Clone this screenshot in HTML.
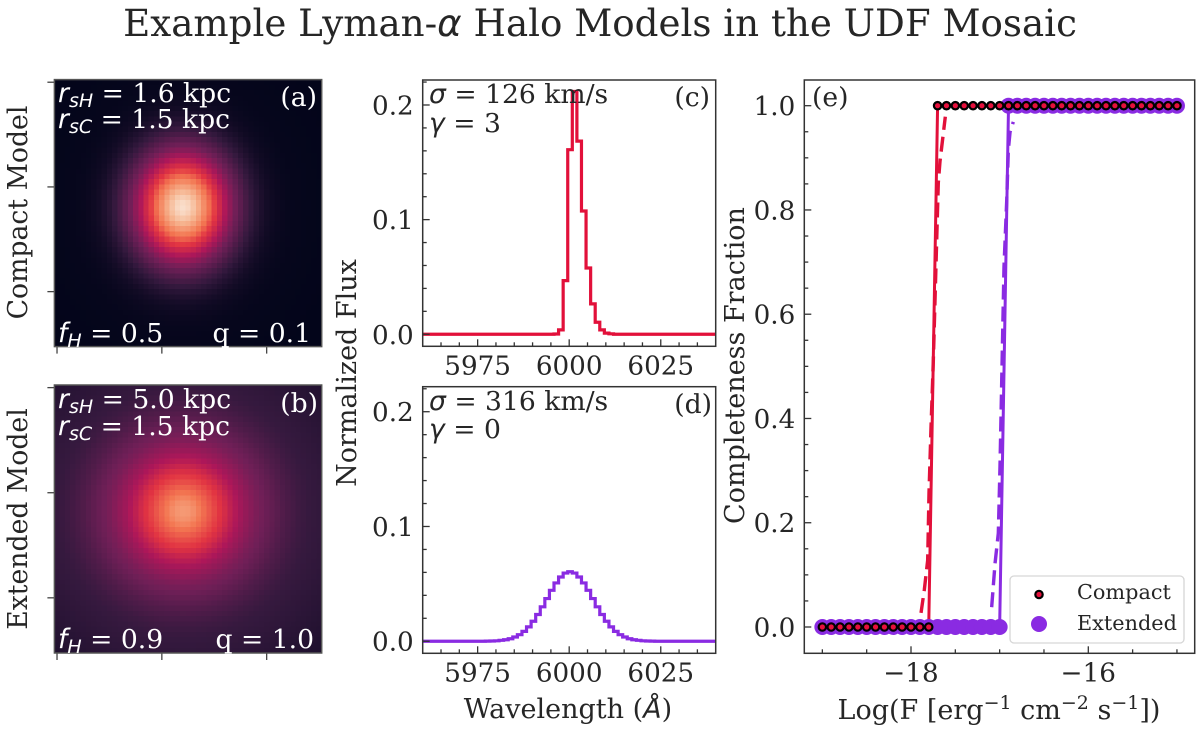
<!DOCTYPE html>
<html lang="en">
<head>
<meta charset="utf-8">
<title>Example Lyman-α Halo Models in the UDF Mosaic</title>
<style>
html,body{margin:0;padding:0;background:#fff;width:1200px;height:731px;overflow:hidden}
svg{display:block}
text{font-family:"DejaVu Serif","Liberation Serif",serif;fill:#262626;font-size:26.2px}
.m{font-family:"DejaVu Sans","Liberation Sans",sans-serif;font-style:italic}
.w{fill:#fff}
.sub{font-size:19px}
.sup{font-size:19px}
.note{font-size:26.6px}
.axis{font-size:27px}
</style>
</head>
<body>
<svg id="fig" xmlns="http://www.w3.org/2000/svg" width="1200" height="731" viewBox="0 0 1200 731">
<defs>
<clipPath id="clip-c"><rect x="422.7" y="80" width="293" height="266.3"/></clipPath>
<clipPath id="clip-d"><rect x="422.7" y="386.7" width="293" height="266.6"/></clipPath>
</defs>
<rect x="0" y="0" width="1200" height="731" fill="#fff"/>
<g id="layer-heat"></g>
<g id="layer-plots"></g>
<g id="layer-axes"></g>

<text x="600" y="36" text-anchor="middle" style="font-size:37.2px">Example Lyman-<tspan class="m">α</tspan> Halo Models in the UDF Mosaic</text>

<text class="axis" transform="translate(27,212.5) rotate(-90)" text-anchor="middle" style="font-size:26.7px">Compact Model</text>
<text class="axis" transform="translate(27,519) rotate(-90)" text-anchor="middle" style="font-size:26.7px">Extended Model</text>
<text class="axis" transform="translate(356,373) rotate(-90)" text-anchor="middle">Normalized Flux</text>
<text class="axis" transform="translate(744,365.5) rotate(-90)" text-anchor="middle">Completeness Fraction</text>
<text class="axis" x="568" y="718" text-anchor="middle">Wavelength (<tspan class="m">Å</tspan>)</text>
<text class="axis" x="999" y="719" text-anchor="middle">Log(F [erg<tspan class="sup" dy="-10">−1</tspan><tspan dy="10"> cm</tspan><tspan class="sup" dy="-10">−2</tspan><tspan dy="10"> s</tspan><tspan class="sup" dy="-10">−1</tspan><tspan dy="10">])</tspan></text>

<g>
<text class="w note" x="58" y="102"><tspan class="m w">r</tspan><tspan class="m w sub" dy="5">sH</tspan><tspan class="w" dy="-5"> = 1.6 kpc</tspan></text>
<text class="w note" x="58" y="128"><tspan class="m w">r</tspan><tspan class="m w sub" dy="5">sC</tspan><tspan class="w" dy="-5"> = 1.5 kpc</tspan></text>
<text class="w note" x="317" y="106" text-anchor="end">(a)</text>
<text class="w note" x="58" y="342"><tspan class="m w">f</tspan><tspan class="m w sub" dy="5">H</tspan><tspan class="w" dy="-5"> = 0.5</tspan></text>
<text class="w note" x="311" y="342" text-anchor="end">q = 0.1</text>
</g>
<g>
<text class="w note" x="58" y="408"><tspan class="m w">r</tspan><tspan class="m w sub" dy="5">sH</tspan><tspan class="w" dy="-5"> = 5.0 kpc</tspan></text>
<text class="w note" x="58" y="435"><tspan class="m w">r</tspan><tspan class="m w sub" dy="5">sC</tspan><tspan class="w" dy="-5"> = 1.5 kpc</tspan></text>
<text class="w note" x="318" y="412" text-anchor="end">(b)</text>
<text class="w note" x="58" y="648"><tspan class="m w">f</tspan><tspan class="m w sub" dy="5">H</tspan><tspan class="w" dy="-5"> = 0.9</tspan></text>
<text class="w note" x="314" y="648" text-anchor="end">q = 1.0</text>
</g>
<g>
<text class="note" x="429" y="103"><tspan class="m">σ</tspan> = 126 km/s</text>
<text class="note" x="429" y="132"><tspan class="m">γ</tspan> = 3</text>
<text class="note" x="710" y="106" text-anchor="end">(c)</text>
</g>
<g>
<text class="note" x="429" y="410"><tspan class="m">σ</tspan> = 316 km/s</text>
<text class="note" x="429" y="438"><tspan class="m">γ</tspan> = 0</text>
<text class="note" x="712" y="413" text-anchor="end">(d)</text>
</g>
<text class="note" x="812" y="106">(e)</text>

<g>
<rect x="1010" y="576" width="174" height="67" rx="4" fill="#fff" fill-opacity="0.85" stroke="#d6d6d6" stroke-width="1.3"/>
<circle cx="1039" cy="624" r="8" fill="#8a2be2"/>
<circle cx="1039" cy="594.5" r="3.7" fill="#e6103c" stroke="#000" stroke-width="2.2"/>
<text x="1077" y="599" style="font-size:20.8px">Compact</text>
<text x="1077" y="630" style="font-size:20.8px">Extended</text>
</g>
</svg>
<script>
// ---- heatmap data: brightness per cell of radius ----
const compactProfile = [.97,.95,.90,.84,.77,.70,.60,.52,.44,.36,.29,.24,.19,.145,.105,.075,.05,.035,.025,.018,.012,.01,.008,.007,.006,.005,.004,.003,.002,.002,.001,.001,.001,0,0,0,0,0,0];
const extendedProfile = [.80,.79,.77,.73,.69,.65,.61,.57,.53,.48,.44,.40,.37,.34,.31,.29,.27,.25,.23,.21,.195,.18,.165,.155,.145,.14,.135,.13,.125,.12,.115,.11,.105,.10,.095,.09,.085,.08,.075];
const rocketStops = ["#03051a","#35193e","#701f57","#ad1759","#e13342","#f37651","#f6b48f","#faebdd"];

// ---- spectra data: flux per 1.25 A wavelength bin ----
const compactFlux = [0,0,0,0,0,0,0,0,0,0,0,0,0,0,0,0,0,0,0,0,0,0,0,0,0,0,0,0,.0002,.0038,.0468,.161,.2118,.1685,.1075,.0578,.0265,.0105,.0038,.001,.0004,0,0,0,0,0,0,0,0,0,0,0,0,0,0,0,0,0,0,0,0,0,0,0];
const extendedFlux = [0,0,0,0,0,0,0,0,0,0,0,0,0,.0001,.0002,.0004,.0008,.0013,.0022,.0037,.0057,.0086,.0125,.0174,.0233,.03,.0372,.0444,.0508,.056,.0594,.0606,.0594,.056,.0508,.0444,.0372,.03,.0233,.0174,.0125,.0086,.0057,.0037,.0022,.0013,.0008,.0004,.0002,.0001,0,0,0,0,0,0,0,0,0,0,0,0,0,0];
const spectrumTickValues = [5975,6000,6025];
const spectrumMinorValues = [5965,5970,5980,5985,5990,5995,6005,6010,6015,6020,6030,6035];
const fluxTickLabels = ["0.0","0.1","0.2"];
const fluxTickValues = [0,0.1,0.2];
const fluxMinorValues = [.02,.04,.06,.08,.12,.14,.16,.18,.22];

// ---- completeness data ----
const logFlux = [-19,-18.9,-18.8,-18.7,-18.6,-18.5,-18.4,-18.3,-18.2,-18.1,-18,-17.9,-17.8,-17.7,-17.6,-17.5,-17.4,-17.3,-17.2,-17.1,-17,-16.9,-16.8,-16.7,-16.6,-16.5,-16.4,-16.3,-16.2,-16.1,-16,-15.9,-15.8,-15.7,-15.6,-15.5,-15.4,-15.3,-15.2,-15.1,-15];
const compactCompleteness = [0,0,0,0,0,0,0,0,0,0,0,0,0,1,1,1,1,1,1,1,1,1,1,1,1,1,1,1,1,1,1,1,1,1,1,1,1,1,1,1,1];
const extendedCompleteness = [0,0,0,0,0,0,0,0,0,0,0,0,0,0,0,0,0,0,0,0,0,1,1,1,1,1,1,1,1,1,1,1,1,1,1,1,1,1,1,1,1];
const compactFitX = [-17.887,-17.85,-17.812,-17.797,-17.774,-17.748,-17.692,-17.673,-17.613];
const compactFitY = [.027,.071,.128,.257,.384,.512,.852,.893,.979];
const extendedFitX = [-17.09,-17.052,-17.015,-16.996,-16.981,-16.966,-16.951,-16.92,-16.902,-16.883,-16.846];
const extendedFitY = [.038,.122,.18,.308,.435,.563,.691,.819,.915,.949,.969];
const completenessXTicks = [-18,-16];
const completenessXLabels = ["−18","−16"];
const completenessXMinor = [-19,-18.5,-17.5,-17,-16.5,-15.5,-15];
const completenessYTicks = [0,.2,.4,.6,.8,1];
const completenessYLabels = ["0.0","0.2","0.4","0.6","0.8","1.0"];
const completenessYMinor = [.05,.1,.15,.25,.3,.35,.45,.5,.55,.65,.7,.75,.85,.9,.95];
const imageTickValues = [0,20,40];

const RED = "#e2103a";
const PURPLE = "#8a2be2";
const NS = "http://www.w3.org/2000/svg";
const heatLayer = document.getElementById("layer-heat");
const plotLayer = document.getElementById("layer-plots");
const axesLayer = document.getElementById("layer-axes");

function mk(tag, attrs, parent) {
  const el = document.createElementNS(NS, tag);
  for (const k in attrs) el.setAttribute(k, attrs[k]);
  parent.appendChild(el);
  return el;
}
function hexRGB(h) { return [parseInt(h.slice(1,3),16),parseInt(h.slice(3,5),16),parseInt(h.slice(5,7),16)]; }
function rocket(t) {
  const p = Math.max(0, Math.min(1, t)) * (rocketStops.length - 1);
  const i = Math.min(rocketStops.length - 2, Math.floor(p));
  const a = hexRGB(rocketStops[i]), b = hexRGB(rocketStops[i + 1]), f = p - i;
  return "rgb(" + a.map((v, n) => Math.round(v + (b[n] - v) * f)).join(",") + ")";
}
function drawHeat(profile, box, cx, cy, yScale, name) {
  const n = 51, w = box.w / n, h = box.h / n;
  const g = mk("g", {"shape-rendering":"crispEdges"}, heatLayer);
  
  
  for (let r = 0; r < n; r++) {
    for (let c = 0; c < n; c++) {
      const dx = c - cx, dy = (r - cy) * yScale;
      const d = Math.min(profile.length - 1.001, Math.sqrt(dx * dx + dy * dy));
      const i = Math.floor(d), v = profile[i] + (profile[i + 1] - profile[i]) * (d - i);
      const x0 = box.x + c * w, y0 = box.y + r * h;
      const cell = mk("rect", {x:x0.toFixed(2), y:y0.toFixed(2), width:(w + (c < n - 1 ? 0.6 : 0)).toFixed(2), height:(h + (r < n - 1 ? 0.6 : 0)).toFixed(2), fill:rocket(v)}, g);
      
      
    }
  }
}
function frame(box, name, color) {
  const f = mk("rect", {x:box.x, y:box.y, width:box.w, height:box.h, fill:"none", stroke:color, "stroke-width":1.5}, axesLayer);
  
  
}
function tick(x1, y1, x2, y2, color) {
  const t = mk("line", {x1:x1, y1:y1, x2:x2, y2:y2, stroke:color, "stroke-width":1.3}, axesLayer);
  
  
}
function label(x, y, str, anchor) {
  const t = mk("text", {x:x, y:y, "text-anchor":anchor}, axesLayer);
  t.textContent = str;
  
  
}

// Heatmap panels
const boxA = {x:54.4, y:79.6, w:267.3, h:267};
const boxB = {x:54.4, y:385, w:267.3, h:268};
drawHeat(compactProfile, boxA, 24, 23.8, 0.86, "compact-model-heatmap");
drawHeat(extendedProfile, boxB, 24.1, 23.5, 1, "extended-model-heatmap");
[boxA, boxB].forEach((b) => {
  const sx = b.w / 51, sy = b.h / 51;
  imageTickValues.forEach((v) => {
    const px = b.x + (v + 0.5) * sx, py = b.y + (v + 0.5) * sy;
    tick(px, b.y + b.h, px, b.y + b.h + 7, "#444");
    tick(b.x, py, b.x - 7, py, "#444");
  });
});
frame(boxA, "panel-a-frame", "#555");
frame(boxB, "panel-b-frame", "#555");

// Spectrum panels
const XMIN = 5960, XMAX = 6040, YMIN = -0.0105, YMAX = 0.2218, BIN0 = 5960.85, BINW = 1.25;
function spectrum(flux, box, color, clip, name) {
  const sx = (v) => box.x + (v - XMIN) / (XMAX - XMIN) * box.w;
  const sy = (v) => box.y + box.h - (v - YMIN) / (YMAX - YMIN) * box.h;
  let d = "M" + sx(XMIN).toFixed(2) + " " + sy(flux[0]).toFixed(2);
  flux.forEach((f, i) => {
    const left = Math.max(XMIN, BIN0 + i * BINW), right = Math.min(XMAX, BIN0 + (i + 1) * BINW);
    d += "L" + sx(left).toFixed(2) + " " + sy(f).toFixed(2) + "L" + sx(right).toFixed(2) + " " + sy(f).toFixed(2);
  });
  d += "L" + sx(XMAX).toFixed(2) + " " + sy(flux[flux.length - 1]).toFixed(2);
  const p = mk("path", {d:d, fill:"none", stroke:color, "stroke-width":3.2, "clip-path":"url(#" + clip + ")"}, plotLayer);
  
  
  const b = box.y + box.h;
  spectrumTickValues.forEach((v) => {
    tick(sx(v), b, sx(v), b - 7, "#333");
    label(sx(v), b + 28, String(v), "middle");
  });
  spectrumMinorValues.forEach((v) => tick(sx(v), b, sx(v), b - 4, "#333"));
  fluxTickValues.forEach((v, i) => {
    tick(box.x, sy(v), box.x + 7, sy(v), "#333");
    label(box.x - 9, sy(v) + 9.5, fluxTickLabels[i], "end");
  });
  fluxMinorValues.forEach((v) => tick(box.x, sy(v), box.x + 4, sy(v), "#333"));
}
const boxC = {x:422.7, y:80, w:293, h:266.3};
const boxD = {x:422.7, y:386.7, w:293, h:266.6};
spectrum(compactFlux, boxC, RED, "clip-c", "compact-spectrum-line");
spectrum(extendedFlux, boxD, PURPLE, "clip-d", "extended-spectrum-line");
frame(boxC, "panel-c-frame", "#333");
frame(boxD, "panel-d-frame", "#333");

// Completeness panel
const boxE = {x:804.3, y:80, w:390.4, h:573.3};
const ex = (v) => 911 + (v + 18) * 88.65;
const ey = (v) => 627 - v * 521.3;
function polyline(xs, ys, color, width, dash, name) {
  const pts = xs.map((x, i) => ex(x).toFixed(2) + "," + ey(ys[i]).toFixed(2)).join(" ");
  const attrs = {points:pts, fill:"none", stroke:color, "stroke-width":width};
  if (dash) attrs["stroke-dasharray"] = dash;
  const l = mk("polyline", attrs, plotLayer);
  
  
}
polyline(compactFitX, compactFitY, RED, 3.4, "15 7", "compact-fit-dashed-line");
polyline(extendedFitX, extendedFitY, PURPLE, 3.4, "15 7", "extended-fit-dashed-line");
polyline(logFlux, compactCompleteness, RED, 3, null, "compact-completeness-line");
polyline(logFlux, extendedCompleteness, PURPLE, 3, null, "extended-completeness-line");
logFlux.forEach((x, i) => {
  const c = mk("circle", {cx:ex(x).toFixed(2), cy:ey(extendedCompleteness[i]).toFixed(2), r:8, fill:PURPLE}, plotLayer);
  
  
});
logFlux.forEach((x, i) => {
  const c = mk("circle", {cx:ex(x).toFixed(2), cy:ey(compactCompleteness[i]).toFixed(2), r:3.7, fill:"#e6103c", stroke:"#000", "stroke-width":2.2}, plotLayer);
  
  
});
const eb = boxE.y + boxE.h;
completenessXTicks.forEach((v, i) => {
  tick(ex(v), eb, ex(v), eb - 7, "#333");
  label(ex(v), eb + 28, completenessXLabels[i], "middle");
});
completenessXMinor.forEach((v) => tick(ex(v), eb, ex(v), eb - 4, "#333"));
completenessYTicks.forEach((v, i) => {
  tick(boxE.x, ey(v), boxE.x + 7, ey(v), "#333");
  label(boxE.x - 9, ey(v) + 9.5, completenessYLabels[i], "end");
});
completenessYMinor.forEach((v) => tick(boxE.x, ey(v), boxE.x + 4, ey(v), "#333"));
frame(boxE, "panel-e-frame", "#333");
</script>
</body>
</html>
